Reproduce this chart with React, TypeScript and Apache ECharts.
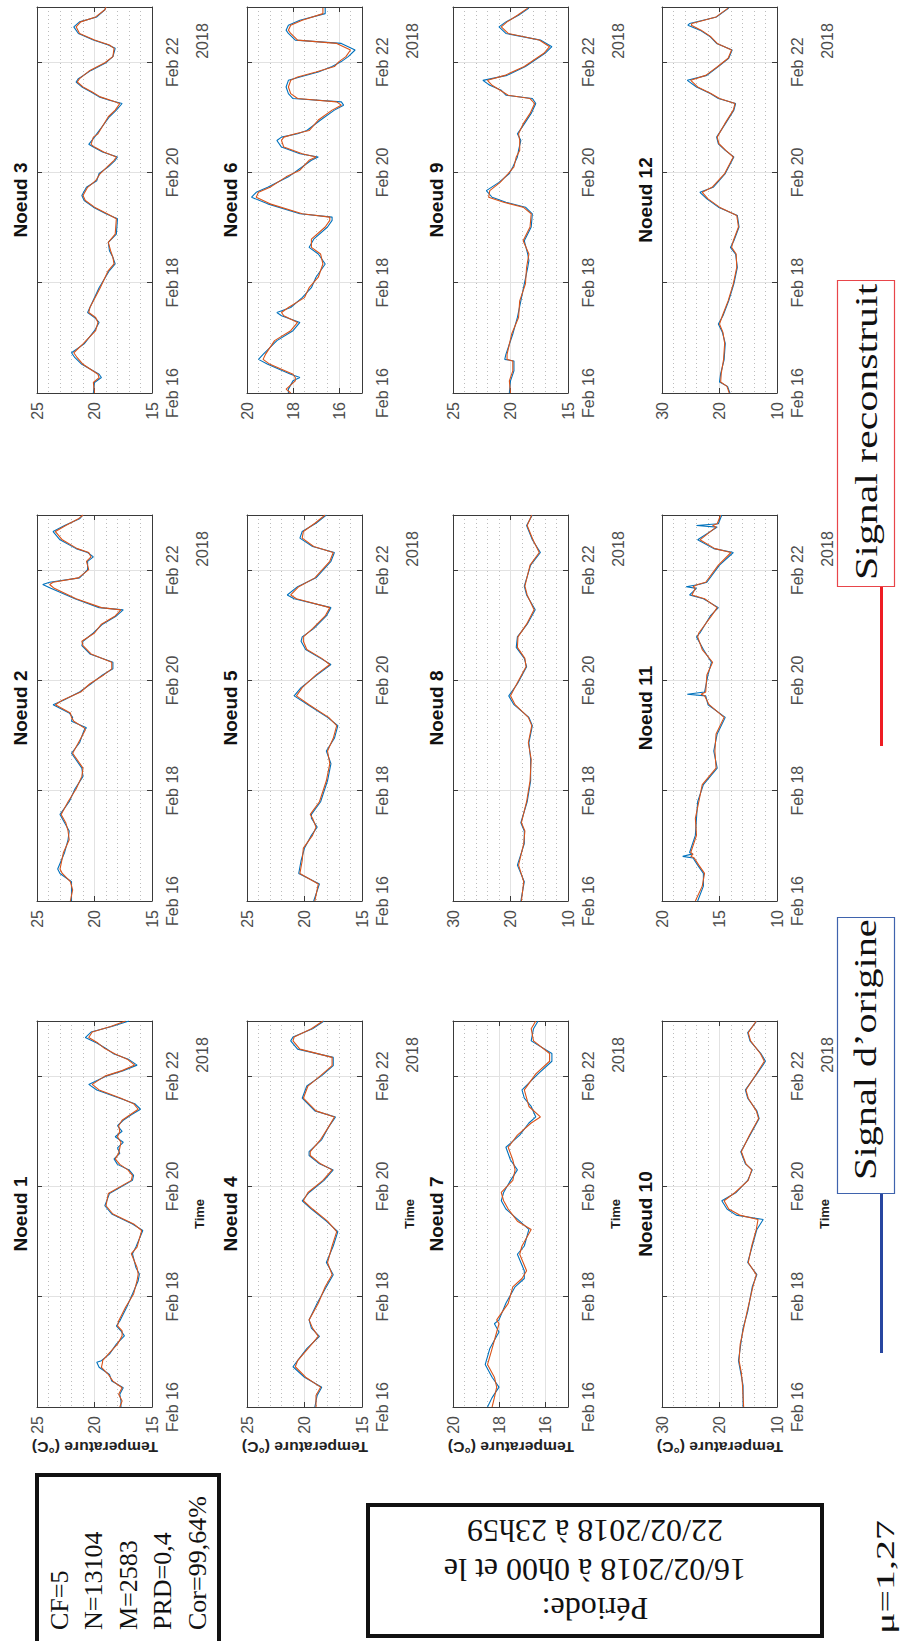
import { useEffect, useRef } from 'react';
import * as echarts from 'echarts';

// ---------- data (day offset from Feb 16 00:00, temperature °C) ----------
const timeTickLabels = ['Feb 16', 'Feb 18', 'Feb 20', 'Feb 22'];
const yearLabel = '2018';
const statsLines = ['CF=5', 'N=13104', 'M=2583', 'PRD=0,4', 'Cor=99,64%'];
const periodLines = ['Période:', '16/02/2018 à 0h00 et le', '22/02/2018 à 23h59'];
const muLabel = 'μ=1,27';
const legendOrig = 'Signal d’origine';
const legendRecon = 'Signal reconstruit';

const n1Orig = [[0,17.7],[0.11,17.7],[0.23,17.8],[0.35,17.5],[0.47,18.5],[0.59,18.7],[0.72,19.6],[0.81,19.8],[0.84,19.4],[0.96,18.7],[1.14,18.1],[1.29,17.4],[1.38,17.7],[1.47,18.1],[1.56,17.8],[1.81,17.2],[2.05,16.7],[2.29,16.2],[2.41,16.1],[2.53,16.4],[2.78,16.7],[2.9,16.4],[3.2,15.8],[3.32,16.7],[3.5,18.5],[3.65,19.1],[3.87,18.7],[4.11,16.7],[4.2,16.6],[4.3,17.0],[4.4,18.0],[4.5,18.3],[4.6,17.8],[4.7,18.0],[4.8,17.5],[4.9,18.2],[5.0,17.6],[5.1,18.0],[5.2,17.5],[5.3,16.8],[5.4,16.0],[5.5,16.5],[5.6,17.8],[5.75,19.8],[5.85,20.5],[6.0,19.0],[6.1,17.5],[6.2,16.3],[6.3,17.0],[6.4,18.3],[6.5,19.0],[6.6,19.8],[6.7,20.8],[6.8,20.3],[6.9,18.5],[7.0,17.0]];
const n1Recon = [[0,17.8],[0.11,17.6],[0.23,17.9],[0.35,17.6],[0.47,18.4],[0.59,18.8],[0.72,19.4],[0.81,19.3],[0.84,19.3],[0.96,18.8],[1.14,18.0],[1.29,17.6],[1.38,17.6],[1.47,18.0],[1.56,17.9],[1.81,17.3],[2.05,16.6],[2.29,16.3],[2.41,16.2],[2.53,16.3],[2.78,16.8],[2.9,16.3],[3.2,15.9],[3.32,16.6],[3.5,18.4],[3.65,19.0],[3.87,18.8],[4.11,16.8],[4.2,16.7],[4.3,17.1],[4.4,17.8],[4.5,18.2],[4.6,17.9],[4.7,17.8],[4.8,17.7],[4.9,18.0],[5.0,17.8],[5.1,17.9],[5.2,17.6],[5.3,16.9],[5.4,16.2],[5.5,16.6],[5.6,17.7],[5.75,19.6],[5.85,20.2],[6.0,19.1],[6.1,17.6],[6.2,16.5],[6.3,17.1],[6.4,18.2],[6.5,19.1],[6.6,19.7],[6.7,20.5],[6.8,20.2],[6.9,18.6],[7.0,17.3]];

const n2Orig = [[0,22.0],[0.2,22.0],[0.35,22.0],[0.5,23.0],[0.58,23.2],[0.88,22.6],[1.11,22.3],[1.27,22.2],[1.42,22.6],[1.57,23.0],[1.8,22.2],[2.03,21.7],[2.26,21.0],[2.41,21.1],[2.68,22.0],[2.87,21.3],[3.1,20.9],[3.14,20.7],[3.26,22.0],[3.33,21.9],[3.41,22.2],[3.56,23.6],[3.64,22.7],[3.79,21.3],[3.94,20.3],[4.1,19.3],[4.21,18.4],[4.33,18.4],[4.48,20.4],[4.63,21.1],[4.71,21.0],[4.86,20.1],[5.02,19.3],[5.17,18.1],[5.28,17.5],[5.32,19.6],[5.48,21.7],[5.67,23.8],[5.74,24.5],[5.78,23.9],[5.86,21.3],[6.01,20.6],[6.16,20.6],[6.24,20.1],[6.32,20.6],[6.39,21.6],[6.55,23.0],[6.7,23.6],[6.81,22.6],[6.93,21.3],[7.0,21.0]];
const n2Recon = [[0,22.1],[0.2,21.9],[0.35,22.1],[0.5,22.8],[0.58,23.0],[0.88,22.7],[1.11,22.2],[1.27,22.3],[1.42,22.5],[1.57,22.9],[1.8,22.3],[2.03,21.6],[2.26,21.1],[2.41,21.0],[2.68,21.9],[2.87,21.4],[3.1,20.8],[3.14,20.9],[3.26,21.8],[3.33,22.0],[3.41,22.1],[3.56,23.4],[3.64,22.8],[3.79,21.2],[3.94,20.4],[4.1,19.2],[4.21,18.5],[4.33,18.5],[4.48,20.3],[4.63,21.0],[4.71,21.1],[4.86,20.0],[5.02,19.4],[5.17,18.2],[5.28,17.7],[5.32,19.4],[5.48,21.6],[5.67,23.5],[5.74,23.9],[5.78,23.6],[5.86,21.4],[6.01,20.5],[6.16,20.7],[6.24,20.3],[6.32,20.5],[6.39,21.5],[6.55,22.8],[6.7,23.4],[6.81,22.5],[6.93,21.4],[7.0,21.0]];

const n3Orig = [[0,20.1],[0.19,20.0],[0.28,19.4],[0.34,19.6],[0.52,21.1],[0.64,21.7],[0.73,22.0],[0.89,20.9],[1.13,20.0],[1.28,19.6],[1.37,20.0],[1.46,20.6],[1.55,20.4],[1.91,19.6],[2.22,18.7],[2.34,18.2],[2.46,18.4],[2.58,18.7],[2.73,18.8],[2.88,18.1],[3.16,18.0],[3.25,19.0],[3.37,20.1],[3.49,20.9],[3.58,21.1],[3.73,20.7],[3.85,19.8],[3.98,19.6],[4.1,18.8],[4.22,18.2],[4.28,18.0],[4.37,19.3],[4.46,20.1],[4.51,20.5],[4.64,20.0],[4.7,19.8],[5.01,18.7],[5.13,18.1],[5.25,17.6],[5.31,18.7],[5.37,19.6],[5.46,20.3],[5.55,21.1],[5.64,21.6],[5.7,21.4],[5.85,20.3],[5.99,19.0],[6.1,18.4],[6.25,18.2],[6.31,18.8],[6.4,20.1],[6.52,21.4],[6.64,21.8],[6.73,21.3],[6.82,19.8],[6.95,19.1],[7.0,19.0]];
const n3Recon = [[0,20.0],[0.19,20.1],[0.28,19.6],[0.34,19.7],[0.52,21.0],[0.64,21.5],[0.73,21.8],[0.89,21.0],[1.13,19.9],[1.28,19.7],[1.37,19.9],[1.46,20.5],[1.55,20.4],[1.91,19.5],[2.22,18.8],[2.34,18.3],[2.46,18.4],[2.58,18.6],[2.73,18.8],[2.88,18.2],[3.16,18.1],[3.25,18.9],[3.37,20.0],[3.49,20.8],[3.58,21.0],[3.73,20.6],[3.85,19.9],[3.98,19.5],[4.1,18.9],[4.22,18.3],[4.28,18.1],[4.37,19.2],[4.46,20.0],[4.51,20.3],[4.64,20.1],[4.7,19.7],[5.01,18.8],[5.13,18.2],[5.25,17.8],[5.31,18.6],[5.37,19.5],[5.46,20.2],[5.55,21.0],[5.64,21.5],[5.7,21.3],[5.85,20.4],[5.99,19.1],[6.1,18.4],[6.25,18.3],[6.31,18.7],[6.4,20.0],[6.52,21.3],[6.64,21.6],[6.73,21.2],[6.82,19.9],[6.95,19.1],[7.0,19.0]];

const n4Orig = [[0,19.1],[0.21,18.9],[0.36,18.5],[0.54,20.0],[0.73,21.0],[0.84,20.6],[1.06,19.8],[1.28,18.7],[1.43,19.4],[1.58,19.6],[1.88,18.9],[2.18,18.1],[2.4,17.5],[2.62,18.1],[2.92,17.5],[3.18,17.1],[3.37,18.1],[3.59,19.4],[3.74,20.2],[3.89,19.6],[4.11,18.3],[4.3,17.5],[4.41,18.7],[4.56,19.6],[4.63,19.6],[4.85,18.5],[5.08,17.9],[5.26,17.3],[5.37,19.1],[5.6,20.2],[5.82,19.8],[6.01,18.5],[6.19,17.5],[6.34,17.5],[6.49,20.6],[6.64,21.2],[6.71,21.0],[6.86,19.3],[7.0,18.3]];
const n4Recon = [[0,19.0],[0.21,19.0],[0.36,18.6],[0.54,19.9],[0.73,20.8],[0.84,20.6],[1.06,19.7],[1.28,18.8],[1.43,19.3],[1.58,19.6],[1.88,18.8],[2.18,18.2],[2.4,17.6],[2.62,18.0],[2.92,17.6],[3.18,17.2],[3.37,18.0],[3.59,19.3],[3.74,20.1],[3.89,19.7],[4.11,18.4],[4.3,17.6],[4.41,18.6],[4.56,19.5],[4.63,19.5],[4.85,18.6],[5.08,17.9],[5.26,17.4],[5.37,19.0],[5.6,20.1],[5.82,19.7],[6.01,18.6],[6.19,17.6],[6.34,17.6],[6.49,20.4],[6.64,21.0],[6.71,20.9],[6.86,19.4],[7.0,18.4]];

const n5Orig = [[0,19.2],[0.31,18.7],[0.5,20.5],[0.73,20.3],[0.96,20.0],[1.19,19.4],[1.34,18.9],[1.5,19.4],[1.57,19.4],[1.8,18.6],[2.18,18.0],[2.49,17.7],[2.72,18.1],[2.95,17.4],[3.18,17.1],[3.33,18.0],[3.56,19.7],[3.72,20.9],[3.87,20.3],[4.1,18.9],[4.29,17.7],[4.4,18.6],[4.56,19.9],[4.71,20.3],[4.79,20.2],[4.94,19.2],[5.17,18.1],[5.32,17.7],[5.48,20.9],[5.55,21.5],[5.7,20.6],[5.86,19.0],[6.16,17.7],[6.32,17.4],[6.43,19.3],[6.58,20.4],[6.7,20.2],[6.85,19.0],[7.0,18.1]];
const n5Recon = [[0,19.1],[0.31,18.8],[0.5,20.4],[0.73,20.2],[0.96,20.1],[1.19,19.3],[1.34,19.0],[1.5,19.3],[1.57,19.5],[1.8,18.7],[2.18,18.1],[2.49,17.8],[2.72,18.0],[2.95,17.5],[3.18,17.2],[3.33,17.9],[3.56,19.6],[3.72,20.7],[3.87,20.2],[4.1,19.0],[4.29,17.8],[4.4,18.5],[4.56,19.8],[4.71,20.1],[4.79,20.1],[4.94,19.3],[5.17,18.2],[5.32,17.8],[5.48,20.7],[5.55,21.2],[5.7,20.5],[5.86,19.1],[6.16,17.8],[6.32,17.5],[6.43,19.2],[6.58,20.2],[6.7,20.1],[6.85,19.1],[7.0,18.2]];

const n6Orig = [[0,18.2],[0.07,18.2],[0.22,18.0],[0.28,17.7],[0.34,18.1],[0.52,19.1],[0.61,19.5],[0.7,19.3],[0.95,18.7],[1.13,18.0],[1.28,17.7],[1.4,18.5],[1.46,18.7],[1.55,18.1],[1.73,17.6],[1.91,17.2],[2.1,17.0],[2.34,16.6],[2.52,16.9],[2.64,17.3],[2.79,17.1],[3.01,16.5],[3.13,16.3],[3.19,16.3],[3.25,17.7],[3.43,19.1],[3.55,19.8],[3.64,19.6],[3.73,19.1],[3.92,18.2],[4.04,17.8],[4.22,17.2],[4.28,16.9],[4.34,17.7],[4.46,18.5],[4.58,18.7],[4.64,18.5],[4.7,17.8],[4.76,17.4],[4.95,16.8],[5.13,16.2],[5.22,15.8],[5.28,15.9],[5.34,18.0],[5.43,18.2],[5.55,18.3],[5.67,18.2],[5.73,17.7],[5.82,16.9],[5.92,16.3],[6.01,15.9],[6.1,15.6],[6.22,15.3],[6.34,15.9],[6.4,17.9],[6.52,18.2],[6.58,18.3],[6.67,18.2],[6.76,17.7],[6.88,16.6],[6.98,16.6]];
const n6Recon = [[0,18.1],[0.07,18.3],[0.22,17.9],[0.28,17.9],[0.34,18.0],[0.52,19.0],[0.61,19.3],[0.7,19.2],[0.95,18.8],[1.13,18.1],[1.28,17.8],[1.4,18.4],[1.46,18.5],[1.55,18.2],[1.73,17.5],[1.91,17.3],[2.1,16.9],[2.34,16.7],[2.52,16.8],[2.64,17.2],[2.79,17.2],[3.01,16.6],[3.13,16.4],[3.19,16.4],[3.25,17.6],[3.43,19.0],[3.55,19.6],[3.64,19.5],[3.73,19.0],[3.92,18.3],[4.04,17.7],[4.22,17.3],[4.28,17.0],[4.34,17.6],[4.46,18.4],[4.58,18.5],[4.64,18.4],[4.7,17.9],[4.76,17.3],[4.95,16.9],[5.13,16.3],[5.22,15.9],[5.28,16.1],[5.34,17.8],[5.43,18.1],[5.55,18.2],[5.67,18.1],[5.73,17.8],[5.82,17.0],[5.92,16.2],[6.01,16.0],[6.1,15.7],[6.22,15.5],[6.34,16.1],[6.4,17.8],[6.52,18.1],[6.58,18.2],[6.67,18.1],[6.76,17.6],[6.88,16.7],[6.98,16.7]];

const n7Orig = [[0,18.5],[0.17,18.3],[0.36,18.0],[0.54,18.3],[0.77,18.6],[1.06,18.4],[1.36,18.0],[1.51,18.2],[1.58,18.0],[1.88,17.7],[2.18,17.3],[2.33,16.9],[2.47,16.9],[2.77,17.2],[2.92,16.9],[3.22,16.7],[3.37,17.1],[3.59,17.7],[3.74,17.9],[3.89,17.8],[4.11,17.5],[4.3,17.2],[4.48,17.5],[4.71,17.7],[4.93,17.1],[5.15,16.7],[5.26,16.4],[5.45,16.6],[5.6,16.9],[5.75,17.0],[6.04,16.3],[6.27,15.7],[6.41,15.7],[6.64,16.6],[6.86,16.5],[7.0,16.3]];
const n7Recon = [[0,18.3],[0.17,18.2],[0.36,18.1],[0.54,18.2],[0.77,18.5],[1.06,18.3],[1.36,18.1],[1.51,18.0],[1.58,18.1],[1.88,17.6],[2.18,17.4],[2.33,17.0],[2.47,16.8],[2.77,17.1],[2.92,17.0],[3.22,16.6],[3.37,17.2],[3.59,17.6],[3.74,17.8],[3.89,17.9],[4.11,17.4],[4.3,17.3],[4.48,17.4],[4.71,17.6],[4.93,17.2],[5.15,16.6],[5.26,16.2],[5.45,16.7],[5.6,16.8],[5.75,16.9],[6.04,16.4],[6.27,15.8],[6.41,15.8],[6.64,16.5],[6.86,16.6],[7.0,16.4]];

const n8Orig = [[0,18.2],[0.35,17.6],[0.65,18.8],[1.04,17.6],[1.27,17.6],[1.42,18.2],[1.8,17.1],[2.18,16.5],[2.57,16.5],[2.87,16.8],[3.18,16.2],[3.33,16.8],[3.56,19.4],[3.72,20.3],[3.94,18.8],[4.25,17.2],[4.4,17.6],[4.6,19.0],[4.79,18.8],[5.02,17.1],[5.28,15.7],[5.55,17.2],[5.71,17.6],[6.09,16.5],[6.32,14.8],[6.55,16.2],[6.81,17.2],[7.0,16.2]];
const n8Recon = [[0,18.1],[0.35,17.7],[0.65,18.6],[1.04,17.7],[1.27,17.5],[1.42,18.1],[1.8,17.2],[2.18,16.6],[2.57,16.4],[2.87,16.9],[3.18,16.3],[3.33,16.9],[3.56,19.2],[3.72,20.0],[3.94,18.9],[4.25,17.3],[4.4,17.5],[4.6,18.8],[4.79,18.7],[5.02,17.2],[5.28,15.9],[5.55,17.1],[5.71,17.5],[6.09,16.6],[6.32,15.0],[6.55,16.1],[6.81,17.1],[7.0,16.3]];

const n9Orig = [[0,20.1],[0.22,20.0],[0.4,19.7],[0.58,19.7],[0.61,20.5],[0.7,20.4],[1.07,19.8],[1.37,19.4],[1.67,19.1],[1.98,18.8],[2.28,18.5],[2.4,18.4],[2.52,18.5],[2.76,18.8],[3.01,18.2],[3.25,18.1],[3.37,18.7],[3.46,20.4],[3.55,21.6],[3.67,22.1],[3.82,21.0],[3.98,20.1],[4.1,19.8],[4.28,19.4],[4.4,19.3],[4.58,19.1],[4.7,19.4],[4.88,18.8],[5.07,18.2],[5.25,17.8],[5.34,18.1],[5.4,20.4],[5.49,20.8],[5.58,21.8],[5.67,22.4],[5.76,20.3],[5.92,18.7],[6.16,17.0],[6.28,16.4],[6.4,17.4],[6.52,20.4],[6.64,21.0],[6.73,20.4],[6.85,19.3],[6.98,18.4]];
const n9Recon = [[0,20.0],[0.22,20.1],[0.4,19.8],[0.58,19.8],[0.61,20.3],[0.7,20.3],[1.07,19.9],[1.37,19.3],[1.67,19.2],[1.98,18.7],[2.28,18.6],[2.4,18.5],[2.52,18.4],[2.76,18.9],[3.01,18.3],[3.25,18.2],[3.37,18.9],[3.46,20.6],[3.55,21.9],[3.67,21.8],[3.82,20.9],[3.98,20.2],[4.1,19.7],[4.28,19.5],[4.4,19.2],[4.58,19.2],[4.7,19.3],[4.88,18.9],[5.07,18.3],[5.25,17.9],[5.34,18.3],[5.4,20.2],[5.49,20.9],[5.58,21.6],[5.67,22.0],[5.76,20.5],[5.92,18.8],[6.16,17.1],[6.28,16.6],[6.4,17.5],[6.52,20.2],[6.64,20.8],[6.73,20.3],[6.85,19.4],[6.98,18.5]];

const n10Orig = [[0,15.9],[0.39,15.9],[0.62,16.3],[0.84,16.7],[1.14,16.3],[1.43,15.9],[1.73,15.1],[2.18,14.3],[2.4,13.5],[2.62,15.1],[2.92,14.3],[3.22,13.5],[3.4,12.4],[3.48,17.1],[3.59,18.7],[3.74,19.6],[3.89,17.1],[4.11,15.1],[4.3,14.3],[4.41,15.5],[4.63,16.3],[4.93,14.7],[5.23,13.1],[5.37,13.5],[5.6,15.1],[5.75,15.5],[6.04,13.5],[6.27,12.0],[6.41,12.8],[6.64,14.7],[6.79,15.1],[7.0,13.5]];
const n10Recon = [[0,15.8],[0.39,16.0],[0.62,16.2],[0.84,16.6],[1.14,16.4],[1.43,15.8],[1.73,15.2],[2.18,14.2],[2.4,13.6],[2.62,15.0],[2.92,14.4],[3.22,13.6],[3.4,13.3],[3.48,16.5],[3.59,18.4],[3.74,19.2],[3.89,17.3],[4.11,15.0],[4.3,14.4],[4.41,15.4],[4.63,16.2],[4.93,14.8],[5.23,13.2],[5.37,13.6],[5.6,15.0],[5.75,15.4],[6.04,13.6],[6.27,12.2],[6.41,12.9],[6.64,14.6],[6.79,15.0],[7.0,13.6]];

const n11Orig = [[0,16.9],[0.27,16.4],[0.5,16.4],[0.65,16.9],[0.78,17.3],[0.81,18.2],[0.85,17.4],[0.88,17.6],[1.19,17.1],[1.5,17.0],[1.8,16.9],[2.11,16.4],[2.41,15.2],[2.72,15.5],[3.03,15.2],[3.33,14.5],[3.56,16.0],[3.72,16.2],[3.75,17.8],[3.79,16.3],[4.1,16.0],[4.33,15.7],[4.56,16.4],[4.79,17.0],[4.86,16.7],[5.17,15.8],[5.32,15.1],[5.48,16.4],[5.55,17.6],[5.67,17.0],[5.7,17.9],[5.74,16.8],[5.78,16.1],[6.09,15.0],[6.32,13.8],[6.39,15.5],[6.55,16.9],[6.78,15.2],[6.81,17.0],[6.84,15.1],[7.0,14.8]];
const n11Recon = [[0,17.1],[0.27,16.5],[0.5,16.3],[0.65,16.8],[0.78,17.2],[0.81,17.5],[0.85,17.3],[0.88,17.5],[1.19,17.0],[1.5,17.1],[1.8,16.8],[2.11,16.5],[2.41,15.3],[2.72,15.4],[3.03,15.3],[3.33,14.6],[3.56,15.9],[3.72,16.3],[3.75,16.6],[3.79,16.2],[4.1,16.1],[4.33,15.6],[4.56,16.5],[4.79,16.9],[4.86,16.8],[5.17,15.7],[5.32,15.2],[5.48,16.3],[5.55,17.4],[5.67,17.1],[5.7,17.3],[5.74,16.9],[5.78,16.2],[6.09,15.1],[6.32,14.0],[6.39,15.4],[6.55,16.7],[6.78,15.3],[6.81,15.6],[6.84,15.2],[7.0,14.9]];

const n12Orig = [[0,18.2],[0.12,18.6],[0.2,20.0],[0.35,19.8],[0.6,19.2],[0.9,19.0],[1.1,19.5],[1.25,20.2],[1.4,19.4],[1.67,18.4],[1.98,17.5],[2.28,16.9],[2.52,17.2],[2.64,18.1],[2.76,17.5],[3.01,16.6],[3.22,16.9],[3.37,20.2],[3.52,22.2],[3.64,23.4],[3.73,21.1],[3.98,19.0],[4.22,17.8],[4.28,17.5],[4.4,19.0],[4.52,20.2],[4.64,20.5],[4.88,19.0],[5.13,17.5],[5.25,17.2],[5.34,20.2],[5.43,21.6],[5.55,24.0],[5.67,25.6],[5.76,22.2],[5.92,20.2],[6.07,18.4],[6.22,17.8],[6.34,20.5],[6.46,21.6],[6.58,23.4],[6.67,25.5],[6.7,25.2],[6.82,20.5],[6.98,18.4]];
const n12Recon = [[0,18.3],[0.12,18.7],[0.2,19.8],[0.35,19.7],[0.6,19.3],[0.9,19.1],[1.1,19.4],[1.25,20.0],[1.4,19.5],[1.67,18.5],[1.98,17.6],[2.28,17.0],[2.52,17.1],[2.64,17.9],[2.76,17.6],[3.01,16.7],[3.22,17.0],[3.37,20.0],[3.52,22.0],[3.64,23.0],[3.73,21.3],[3.98,19.1],[4.22,17.9],[4.28,17.6],[4.4,18.9],[4.52,20.1],[4.64,20.4],[4.88,19.1],[5.13,17.6],[5.25,17.3],[5.34,20.0],[5.43,21.5],[5.55,23.8],[5.67,25.0],[5.76,22.4],[5.92,20.3],[6.07,18.5],[6.22,17.9],[6.34,20.4],[6.46,21.5],[6.58,23.2],[6.67,24.9],[6.7,24.8],[6.82,20.6],[6.98,18.5]];

// temperature axis settings per node
const panels = [
  { name: 'Noeud 1', orig: n1Orig, recon: n1Recon, tMin: 15, tMax: 25, split: 2, minor: 5 },
  { name: 'Noeud 2', orig: n2Orig, recon: n2Recon, tMin: 15, tMax: 25, split: 2, minor: 5 },
  { name: 'Noeud 3', orig: n3Orig, recon: n3Recon, tMin: 15, tMax: 25, split: 2, minor: 5 },
  { name: 'Noeud 4', orig: n4Orig, recon: n4Recon, tMin: 15, tMax: 25, split: 2, minor: 5 },
  { name: 'Noeud 5', orig: n5Orig, recon: n5Recon, tMin: 15, tMax: 25, split: 2, minor: 5 },
  { name: 'Noeud 6', orig: n6Orig, recon: n6Recon, tMin: 15, tMax: 20, split: 3, minor: 4 },
  { name: 'Noeud 7', orig: n7Orig, recon: n7Recon, tMin: 15, tMax: 20, split: 3, minor: 4 },
  { name: 'Noeud 8', orig: n8Orig, recon: n8Recon, tMin: 10, tMax: 30, split: 2, minor: 5 },
  { name: 'Noeud 9', orig: n9Orig, recon: n9Recon, tMin: 15, tMax: 25, split: 2, minor: 5 },
  { name: 'Noeud 10', orig: n10Orig, recon: n10Recon, tMin: 10, tMax: 30, split: 2, minor: 5 },
  { name: 'Noeud 11', orig: n11Orig, recon: n11Recon, tMin: 10, tMax: 20, split: 2, minor: 5 },
  { name: 'Noeud 12', orig: n12Orig, recon: n12Recon, tMin: 10, tMax: 30, split: 2, minor: 5 },
];

// ---------- layout ----------
const COL_LEFT = [37, 247, 453, 662];
const ROW_TOP = [7, 515, 1021];
const PW = 115;
const PH = 386;
const AXIS_C = '#3a3a3a';
const LABEL_C = '#4d4d4d';
const SANS = 'Liberation Sans';
const SERIF = 'Liberation Serif';
const BLUE = '#0072BD';
const RED = '#D95319';

function txt(x: number, y: number, text: string, rot: number, s: any, extra: any = {}) {
  return {
    type: 'text', x, y, rotation: rot, ...extra,
    style: {
      text, fill: '#111', fontFamily: SANS, fontSize: 16,
      align: 'center', verticalAlign: 'middle', textAlign: 'center', textVerticalAlign: 'middle',
      ...s,
    },
  };
}

function buildOption() {
  const grid: any[] = [];
  const xAxis: any[] = [];
  const yAxis: any[] = [];
  const series: any[] = [];
  const graphic: any[] = [];
  const line = { show: true, onZero: false, lineStyle: { color: AXIS_C, width: 1 } };
  const tick = { show: true, inside: true, length: 5, lineStyle: { color: AXIS_C, width: 1 } };

  panels.forEach((p, i) => {
    const col = Math.floor(i / 3);
    const row = 2 - (i % 3);
    const left = COL_LEFT[col];
    const top = ROW_TOP[row];
    grid.push({ left, top, width: PW, height: PH });
    const tBase = {
      type: 'value', gridIndex: i, min: p.tMin, max: p.tMax, inverse: true, splitNumber: p.split,
      axisLine: line, axisTick: tick, minorTick: { show: false, splitNumber: p.minor },
    };
    xAxis.push({
      ...tBase, position: 'bottom',
      axisLabel: {
        show: true, rotate: 90, margin: 9, color: LABEL_C, fontSize: 16, fontFamily: SANS,
        showMinLabel: p.tMax - p.tMin !== 5,
      },
      splitLine: { show: true, lineStyle: { color: '#e2e2e2', width: 1 } },
      minorSplitLine: { show: true, lineStyle: { color: '#bcbcbc', width: 1, type: [1, 3] } },
    });
    xAxis.push({
      ...tBase, position: 'top', axisLabel: { show: false },
      splitLine: { show: false }, minorSplitLine: { show: false },
    });
    const dBase = { type: 'value', gridIndex: i, min: 0, max: 7, interval: 2, axisLine: line, axisTick: tick };
    yAxis.push({
      ...dBase, position: 'right',
      axisLabel: {
        show: true, rotate: 90, margin: 12, color: LABEL_C, fontSize: 16, fontFamily: SANS,
        formatter: (v: number) => {
          const k = v / 2;
          return Number.isInteger(k) && k < timeTickLabels.length ? timeTickLabels[k] : '';
        },
      },
      splitLine: { show: true, lineStyle: { color: '#e2e2e2', width: 1 } },
    });
    yAxis.push({ ...dBase, position: 'left', axisLabel: { show: false }, splitLine: { show: false } });

    series.push({
      type: 'line', xAxisIndex: 2 * i, yAxisIndex: 2 * i, symbol: 'none', showSymbol: false,
      data: p.orig.map(([d, t]) => [t, d]), lineStyle: { color: BLUE, width: 1.1 }, itemStyle: { color: BLUE },
      silent: true, z: 3,
    });
    series.push({
      type: 'line', xAxisIndex: 2 * i, yAxisIndex: 2 * i, symbol: 'none', showSymbol: false,
      data: p.recon.map(([d, t]) => [t, d]), lineStyle: { color: RED, width: 1.1 }, itemStyle: { color: RED },
      silent: true, z: 4,
    });

    graphic.push(txt(left - 17, top + PH / 2, p.name, Math.PI / 2, { fontSize: 19, fontWeight: 'bold', fill: '#111' }));
    graphic.push(txt(left + 165, top + 34, yearLabel, Math.PI / 2, { fontSize: 16, fill: LABEL_C }));
    if (row === 2) {
      graphic.push(txt(left + 162, top + PH / 2, 'Time', Math.PI / 2, { fontSize: 13, fontWeight: 'bold', fill: '#222' }));
      graphic.push(txt(left + 58, top + 426, 'Temperature (°C)', Math.PI, { fontSize: 14, fontWeight: 'bold', fill: '#222' }, { scaleX: 1.12 }));
    }
  });

  // annotation boxes
  graphic.push({ type: 'rect', shape: { x: 37, y: 1475, width: 182, height: 190 }, style: { fill: 'none', stroke: '#111', lineWidth: 4 } });
  graphic.push(txt(128, 1630, statsLines.join('\n'), Math.PI / 2, {
    fontFamily: SERIF, fontSize: 26, lineHeight: 34.5, align: 'left', textAlign: 'left',
  }));
  graphic.push({ type: 'rect', shape: { x: 368, y: 1505, width: 454, height: 131 }, style: { fill: 'none', stroke: '#111', lineWidth: 4 } });
  graphic.push(txt(595, 1570, periodLines.join('\n'), Math.PI, { fontFamily: SERIF, fontSize: 32, lineHeight: 39 }));
  graphic.push(txt(885, 1634, muLabel, Math.PI / 2, { fontFamily: SERIF, fontSize: 25, align: 'left', textAlign: 'left' }, { scaleX: 1.6 }));

  // legend
  graphic.push({ type: 'rect', shape: { x: 837.5, y: 280.5, width: 57, height: 306 }, style: { fill: '#fff', stroke: '#e8454a', lineWidth: 1.2 } });
  graphic.push(txt(866, 580, legendRecon, Math.PI / 2, { fontFamily: SERIF, fontSize: 31, align: 'left', textAlign: 'left' }, { scaleX: 1.35 }));
  graphic.push({ type: 'line', shape: { x1: 881.5, y1: 587, x2: 881.5, y2: 746 }, style: { stroke: '#ee1d23', lineWidth: 3 } });
  graphic.push({ type: 'rect', shape: { x: 837.5, y: 917.5, width: 57, height: 276 }, style: { fill: '#fff', stroke: '#3f63ad', lineWidth: 1.2 } });
  graphic.push(txt(866, 1180, legendOrig, Math.PI / 2, { fontFamily: SERIF, fontSize: 31, align: 'left', textAlign: 'left' }, { scaleX: 1.3 }));
  graphic.push({ type: 'line', shape: { x1: 881.5, y1: 1194, x2: 881.5, y2: 1353 }, style: { stroke: '#2846a0', lineWidth: 3 } });

  return { animation: false, backgroundColor: '#fff', grid, xAxis, yAxis, series, graphic };
}

export default function App() {
  const ref = useRef<HTMLDivElement>(null);
  useEffect(() => {
    document.body.style.margin = '0';
    if (!ref.current) return;
    const chart = echarts.init(ref.current, undefined, { renderer: 'svg' });
    chart.setOption(buildOption() as any);
    return () => chart.dispose();
  }, []);
  return <div ref={ref} style={{ position: 'absolute', left: 0, top: 0, width: 900, height: 1641 }} />;
}
